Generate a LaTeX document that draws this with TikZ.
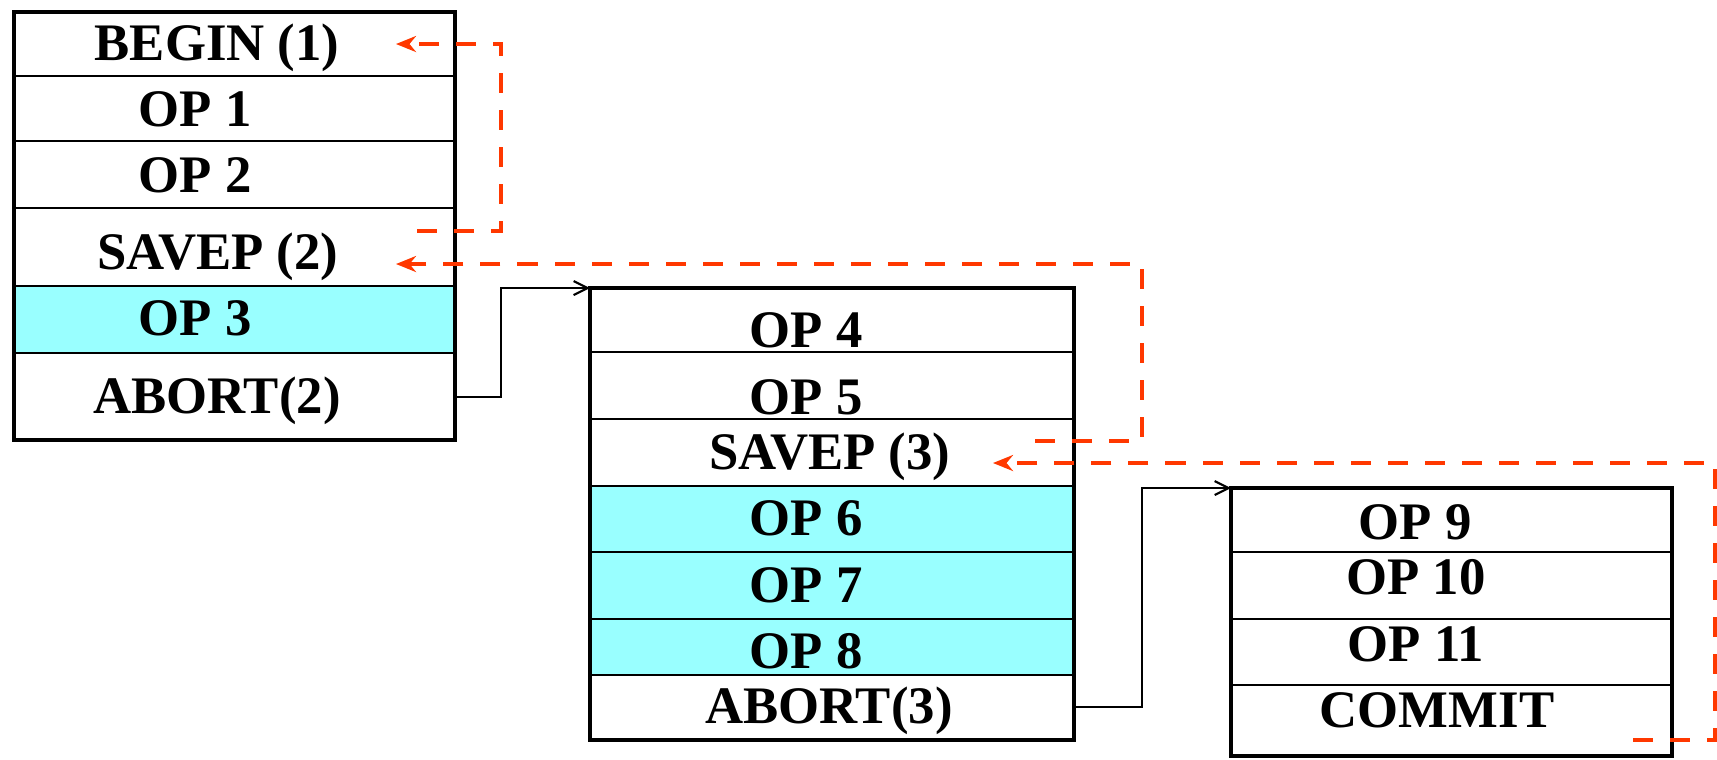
\documentclass[tikz,border=0pt]{standalone}
\usepackage{fontspec}
\setmainfont{Liberation Serif}
\usetikzlibrary{arrows.meta}
\definecolor{rollred}{RGB}{255,56,0}
\definecolor{opcyan}{RGB}{153,255,255}
\tikzset{
  oplabel/.style={anchor=base, inner sep=0pt, font=\fontsize{15}{17}\selectfont\bfseries},
  frame/.style={line width=1.2pt},
  rowline/.style={line width=0.6pt},
  flow/.style={line width=0.6pt, -{Straight Barb[length=1.4mm,width=1.4mm]}},
  rollback/.style={rollred, line width=1.15pt, dash pattern=on 0.2cm off 0.17cm,
    -{Stealth[length=2mm,width=1.6mm]}}
}
\begin{document}
\begin{tikzpicture}[x=0.01cm, y=-0.01cm]
        \useasboundingbox (0,0) rectangle (1717,759);
        %first block
        \fill[opcyan] (14,286) rectangle (455,353);
        \foreach \y in {76,141,208,286,353}
            \draw[rowline] (14,\y) -- (455,\y);
        \draw[frame] (14,12) rectangle (455,440);
        \node[oplabel] (begin1) at (217,60) {BEGIN (1)};
        \node[oplabel] (op1) at (195,126) {OP 1};
        \node[oplabel] (op2) at (195,192) {OP 2};
        \node[oplabel] (savep2) at (218,269) {SAVEP (2)};
        \node[oplabel] (op3) at (195,335) {OP 3};
        \node[oplabel] (abort2) at (217,413) {ABORT(2)};

        %second block
        \fill[opcyan] (590,486) rectangle (1074,675);
        \foreach \y in {352,419,486,552,619,675}
            \draw[rowline] (590,\y) -- (1074,\y);
        \draw[frame] (590,288) rectangle (1074,740);
        \node[oplabel] (op4) at (806,347) {OP 4};
        \node[oplabel] (op5) at (806,414) {OP 5};
        \node[oplabel] (savep3) at (830,469) {SAVEP (3)};
        \node[oplabel] (op6) at (806,535) {OP 6};
        \node[oplabel] (op7) at (806,602) {OP 7};
        \node[oplabel] (op8) at (806,668) {OP 8};
        \node[oplabel] (abort3) at (829,723) {ABORT(3)};

        %third block
        \foreach \y in {552,619,685}
            \draw[rowline] (1231,\y) -- (1672,\y);
        \draw[frame] (1231,488) rectangle (1672,756);
        \node[oplabel] (op9) at (1415,539) {OP 9};
        \node[oplabel] (op10) at (1416,594) {OP 10};
        \node[oplabel] (op11) at (1416,661) {OP 11};
        \node[oplabel] (commit) at (1437,727) {COMMIT};

        %ends of the connectors
        \coordinate (abort2out) at (455,397);
        \coordinate (block2in) at (590,288);
        \coordinate (abort3out) at (1074,707);
        \coordinate (block3in) at (1231,488);
        \coordinate (savep2out) at (417,231);
        \coordinate (abort3back) at (1035,441);
        \coordinate (commitback) at (1633,740);
        \coordinate (begin1in) at (396,44);
        \coordinate (savep2in) at (396,264);
        \coordinate (savep3in) at (993,463);

        \draw[flow] (abort2out) -- ++(46,0) |- (block2in);
        \draw[flow] (abort3out) -- ++(68,0) |- (block3in);

        \draw[rollback] (savep2out) -- ++(84,0) |- (begin1in);
        \draw[rollback] (abort3back) -- ++(107,0) |- (savep2in);
        \draw[rollback] (commitback) -- ++(82,0) |- (savep3in);
    \end{tikzpicture}
\end{document}
